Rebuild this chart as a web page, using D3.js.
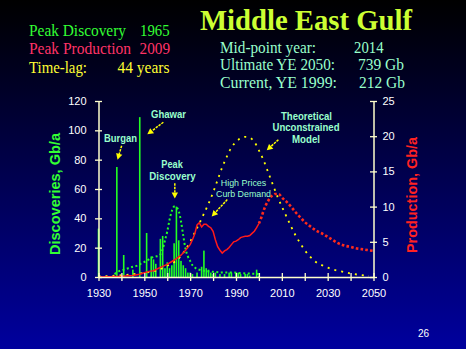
<!DOCTYPE html>
<html>
<head>
<meta charset="utf-8">
<script src="https://cdn.jsdelivr.net/npm/d3@7"></script>
<style>
  html, body { margin: 0; padding: 0; background: #000; }
  svg { display: block; }
</style>
</head>
<body>
<svg id="chart" width="466" height="349"></svg>
<script>
// ---- Data ----------------------------------------------------------
// Annual discoveries (Gb/a, left axis)
const discYears  = [1930,1938,1941,1945,1948,1951,1953,1954,1955,1957,1958,1959,1960,1961,1962,1963,1964,1965,1966,1967,1968,1969,1970,1971,1973,1975,1976,1977,1978,1979,1980,1981,1983,1985,1987,1988,1990,1991,1992,1994,1995,1996,1999,2000];
const discValues = [33,75,15,5,109,30,14,12,9,26,28,6,10,6,8,23,48,25,11,8,6,3,3,2,3,7,18,6,5,3,2,3,2,2,3,3,3,3,2,2,2,1,5,1];

// Smoothed discovery trend (Gb/a, left axis)
const trendYears  = [1937,1939,1941,1943,1945,1947,1949,1951,1953,1955,1956,1957,1958,1959,1960,1961,1962,1963,1964,1965,1966,1967,1968,1969,1970,1971,1972,1973,1974,1976,1978,1980,1983,1986,1989,1992,1995,1998,2001];
const trendValues = [2,4,5,6,7,7.8,9.5,11,13,14,14.3,15.5,19,25,31,39,45,48,47.5,45,38,28,19,14,11,8,6.5,5.5,5,4.2,3.8,3.5,3.2,3,3,2.6,2.4,2.2,2];

// Theoretical unconstrained production model (Gb/a, right axis)
const modelYears  = [1930,1935,1940,1945,1950,1955,1960,1963,1966,1968,1970,1972,1974,1976,1978,1980,1982,1984,1986,1988,1990,1992,1994,1996,1998,2000,2002,2004,2006,2008,2010,2012,2014,2016,2018,2020,2022,2025,2028,2032,2036,2040,2044,2048];
const modelValues = [0.1,0.15,0.25,0.4,0.6,0.9,1.6,2.1,3,3.9,5,6.3,7.6,9,10.4,12,13.8,15.6,17.1,18.4,19.2,19.7,19.9,19.8,19.2,18,16.6,14.9,13.2,11.5,10,8.6,7.2,5.9,4.8,3.8,3,2.1,1.6,1.1,0.8,0.5,0.3,0.15];

// Actual production (Gb/a, right axis)
const prodYears  = [1930,1935,1940,1945,1948,1950,1952,1954,1956,1958,1960,1962,1964,1966,1968,1970,1971,1972,1973,1974,1975,1976,1977,1978,1979,1980,1981,1982,1983,1984,1985,1986,1987,1988,1989,1990,1991,1992,1993,1994,1995,1996,1997,1998,1999,2000];
const prodValues = [0,0.05,0.1,0.2,0.4,0.6,0.8,0.9,1.2,1.5,1.8,2.2,2.6,3.1,3.8,4.6,5.3,6.1,7.4,7.7,7.1,7.5,7.5,7.2,7,6.5,5.3,4.3,3.8,3.4,3.7,3.9,4.2,4.6,5,5.1,5.3,5.6,5.7,5.8,5.8,5.9,6.2,6.5,7,7.6];

// Production forecast (Gb/a, right axis)
const forecastYears  = [2000,2001,2002,2003,2004,2005,2006,2007,2008,2009,2010,2012,2014,2016,2018,2020,2022,2024,2026,2028,2030,2032,2034,2036,2038,2040,2042,2044,2046,2048,2050];
const forecastValues = [7.6,8.4,9.4,10.2,10.8,11.3,11.6,11.8,11.8,11.7,11.3,10.7,10,9.2,8.5,7.8,7.3,6.8,6.4,6.1,5.7,5.3,4.9,4.6,4.4,4.3,4.1,4,3.9,3.8,3.7];

// Axis ticks
const xTickYears = d3.range(1930, 2051, 10);
const xLabelYears = [1930,1950,1970,1990,2010,2030,2050];
const leftTicks = [0,20,40,60,80,100,120];
const rightTicks = [0,5,10,15,20,25];

// ---- Setup ---------------------------------------------------------
const W = 466, H = 349;
const svg = d3.select('#chart');
const defs = svg.append('defs');
const grad = defs.append('linearGradient').attr('id', 'bg')
  .attr('x1', 0).attr('y1', 0).attr('x2', 0).attr('y2', 1);
grad.append('stop').attr('offset', '0%').attr('stop-color', '#000000');
grad.append('stop').attr('offset', '6%').attr('stop-color', '#000008');
grad.append('stop').attr('offset', '100%').attr('stop-color', '#00009e');
svg.append('rect').attr('width', W).attr('height', H).attr('fill', 'url(#bg)');

const x  = d3.scaleLinear().domain([1930, 2050]).range([98.5, 373.5]);
const yL = d3.scaleLinear().domain([0, 120]).range([277, 101]);
const yR = d3.scaleLinear().domain([0, 25]).range([277, 101]);

const SANS = "Arial, 'Liberation Sans', sans-serif";
const SERIF = "'Times New Roman', 'Liberation Serif', serif";
const AXIS = '#ffffcc';
const GREEN = '#22ff22';
const CYAN = '#99ffcc';

// ---- Discovery bars ------------------------------------------------
const bars = discYears.map((yr, i) => ({ yr, v: discValues[i] }));
svg.append('g').selectAll('rect').data(bars).join('rect')
  .attr('x', d => x(d.yr) - 0.8)
  .attr('width', 1.6)
  .attr('y', d => yL(d.v))
  .attr('height', d => yL(0) - yL(d.v))
  .attr('fill', GREEN);

// ---- Lines ---------------------------------------------------------
const zip = (a, b) => a.map((v, i) => [v, b[i]]);
const lineL = d3.line().x(d => x(d[0])).y(d => yL(d[1])).curve(d3.curveMonotoneX);
const lineR = d3.line().x(d => x(d[0])).y(d => yR(d[1])).curve(d3.curveMonotoneX);
const lineRaw = d3.line().x(d => x(d[0])).y(d => yR(d[1]));

svg.append('path').datum(zip(trendYears, trendValues))
  .attr('d', lineL).attr('fill', 'none')
  .attr('stroke', GREEN).attr('stroke-width', 2).attr('stroke-dasharray', '2,2.5');

svg.append('path').datum(zip(modelYears, modelValues))
  .attr('d', lineR).attr('fill', 'none')
  .attr('stroke', '#ffff00').attr('stroke-width', 1.8).attr('stroke-dasharray', '2,5');

svg.append('path').datum(zip(prodYears, prodValues))
  .attr('d', lineRaw).attr('fill', 'none')
  .attr('stroke', '#ff1a1a').attr('stroke-width', 1.5);

svg.append('path').datum(zip(forecastYears, forecastValues))
  .attr('d', lineR).attr('fill', 'none')
  .attr('stroke', '#ff2a1a').attr('stroke-width', 2.6).attr('stroke-dasharray', '2.6,2.2');

// ---- Axes ----------------------------------------------------------
function styleAxis(g) {
  g.select('.domain').attr('stroke', AXIS).attr('stroke-width', 1.5);
  g.selectAll('.tick line').attr('stroke', AXIS).attr('stroke-width', 1.3);
  g.selectAll('.tick text').attr('fill', '#ffffff')
    .style('font-family', SANS).style('font-size', '11px');
}

const gx = svg.append('g').attr('transform', `translate(0,${yL(0)})`)
  .call(d3.axisBottom(x).tickValues(xTickYears).tickSize(4).tickSizeOuter(0).tickPadding(8.5)
    .tickFormat(d => xLabelYears.includes(d) ? String(d) : ''));
styleAxis(gx);
gx.selectAll('.tick line').attr('y1', -4).attr('y2', 4);

const gl = svg.append('g').attr('transform', `translate(${x(1930)},0)`)
  .call(d3.axisLeft(yL).tickValues(leftTicks).tickSize(3).tickSizeOuter(0).tickPadding(9));
styleAxis(gl);
gl.selectAll('.tick line').attr('x1', -3.5).attr('x2', 3.5);

const gr = svg.append('g').attr('transform', `translate(${x(2050)},0)`)
  .call(d3.axisRight(yR).tickValues(rightTicks).tickSize(3).tickSizeOuter(0).tickPadding(6));
styleAxis(gr);
gr.selectAll('.tick line').attr('x1', -3.5).attr('x2', 3.5);

// Axis titles
svg.append('text').text('Discoveries, Gb/a')
  .attr('transform', 'translate(60,194) rotate(-90)')
  .attr('text-anchor', 'middle').attr('textLength', 122).attr('lengthAdjust', 'spacingAndGlyphs')
  .style('font-family', SANS).style('font-size', '15px').style('font-weight', 'bold')
  .attr('fill', '#33ff33');

svg.append('text').text('Production, Gb/a')
  .attr('transform', 'translate(416.5,195) rotate(-90)')
  .attr('text-anchor', 'middle').attr('textLength', 116).attr('lengthAdjust', 'spacingAndGlyphs')
  .style('font-family', SANS).style('font-size', '15px').style('font-weight', 'bold')
  .attr('fill', '#ff2222');

// ---- Header text ---------------------------------------------------
function txt(s, px, py, opts) {
  const t = svg.append('text').text(s).attr('x', px).attr('y', py)
    .style('font-family', opts.family || SERIF)
    .style('font-size', (opts.size || 16) + 'px')
    .style('font-weight', opts.bold ? 'bold' : 'normal')
    .attr('fill', opts.fill)
    .attr('text-anchor', opts.anchor || 'start');
  if (opts.len) t.attr('textLength', opts.len).attr('lengthAdjust', 'spacingAndGlyphs');
  return t;
}

txt('Middle East Gulf', 200, 30, { size: 29, bold: true, fill: '#ccff33', len: 212 });

txt('Peak Discovery', 29, 36, { fill: '#33ff33', len: 97 });
txt('1965', 140, 36, { fill: '#33ff33', len: 29.5 });
txt('Peak Production', 29, 54, { fill: '#ff3366', len: 102 });
txt('2009', 139.5, 54, { fill: '#ff3366', len: 30.5 });
txt('Time-lag:', 29, 72.5, { fill: '#ffff33', len: 58 });
txt('44 years', 117.5, 72.5, { fill: '#ffff33', len: 52 });

txt('Mid-point year:', 220, 52.5, { fill: CYAN, len: 96 });
txt('2014', 354, 52.5, { fill: CYAN, len: 29.5 });
txt('Ultimate YE 2050:', 220, 70, { fill: CYAN, len: 115 });
txt('739 Gb', 358, 70, { fill: CYAN, len: 46 });
txt('Current,  YE 1999:', 220, 87.5, { fill: CYAN, len: 117 });
txt('212 Gb', 359, 87.5, { fill: CYAN, len: 46 });

// ---- Annotations ---------------------------------------------------
function arrow(x1, y1, x2, y2) {
  const ang = Math.atan2(y2 - y1, x2 - x1);
  const hl = 6, hw = 3.2;
  const bx = x2 - hl * Math.cos(ang), by = y2 - hl * Math.sin(ang);
  svg.append('line').attr('x1', x1).attr('y1', y1).attr('x2', bx).attr('y2', by)
    .attr('stroke', '#ffff00').attr('stroke-width', 1.5).attr('stroke-dasharray', '2.5,1');
  const px = -Math.sin(ang), py = Math.cos(ang);
  svg.append('polygon')
    .attr('points', `${x2},${y2} ${bx + px * hw},${by + py * hw} ${bx - px * hw},${by - py * hw}`)
    .attr('fill', '#ffff00');
}

const ann = { family: SANS, size: 10, bold: true, fill: CYAN, anchor: 'middle' };
txt('Burgan', 120.5, 141.5, { ...ann, len: 33 });
arrow(x(1940.1), yL(89.5), x(1938.3), yL(80));

txt('Ghawar', 168.5, 117.5, { ...ann, len: 35 });
arrow(x(1958.3), yL(105.5), x(1951.3), yL(97.3));

txt('Peak', 172, 167.5, { ...ann, len: 21.5 });
txt('Discovery', 172.5, 179.5, { ...ann, len: 46.5 });
arrow(x(1963.3), yL(64), x(1963.3), yL(53.5));

txt('Theoretical', 306.5, 119.5, { ...ann, len: 51 });
txt('Unconstrained', 306, 131, { ...ann, len: 67 });
txt('Model', 306, 142.5, { ...ann, len: 28 });
arrow(x(2008.5), yR(19.5), x(2003.4), yR(18));

const ann2 = { family: SANS, size: 9.5, bold: false, fill: CYAN, anchor: 'middle' };
txt('High Prices', 243.5, 186, { ...ann2, len: 45.5 });
txt('Curb Demand', 243.5, 196.5, { ...ann2, len: 55 });
arrow(x(1986.2), yR(11), x(1979.4), yR(8.6));

// Page number
txt('26', 418, 337, { family: SANS, size: 10, fill: '#ffffff' });
</script>
</body>
</html>
